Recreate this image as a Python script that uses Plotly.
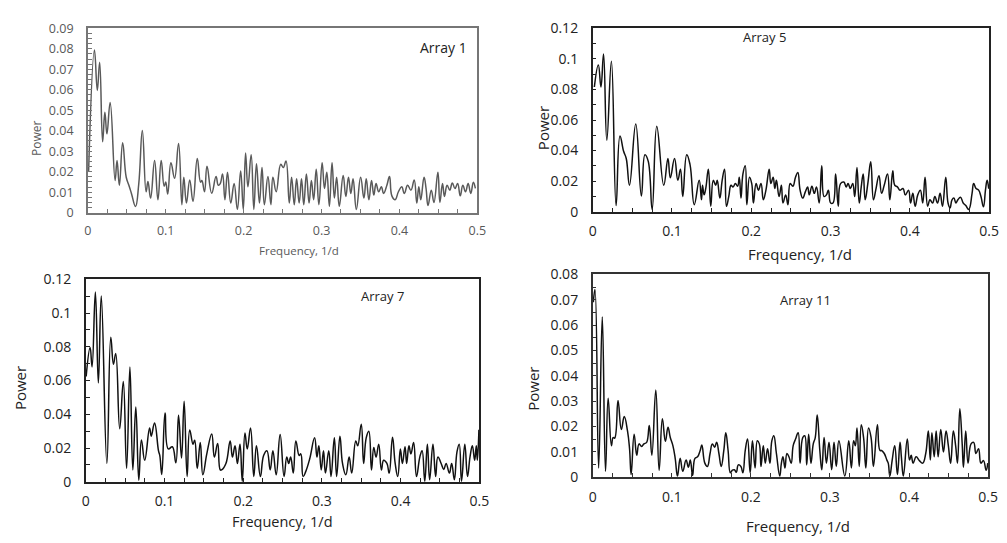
import plotly.graph_objects as go

W, H = 1007, 543

# ---------------- data ----------------
a1_freq = [0.001, 0.0085, 0.0122, 0.0152, 0.019, 0.0219, 0.0245, 0.0287, 0.035, 0.0375, 0.0405, 0.0447,
           0.0493, 0.0527, 0.056, 0.0612, 0.0654, 0.070, 0.0748, 0.0772, 0.0806, 0.0857, 0.090, 0.0942,
           0.098, 0.100, 0.1026, 0.1067, 0.1114, 0.1165, 0.1207, 0.1232, 0.1266, 0.1308, 0.135, 0.1405,
           0.1447, 0.1464, 0.1498, 0.153, 0.159, 0.1646, 0.1675, 0.170, 0.173, 0.176, 0.1793, 0.1835,
           0.1878, 0.192, 0.1962, 0.1996, 0.2025, 0.2055, 0.2097, 0.2131, 0.2165, 0.2203, 0.2236, 0.2266,
           0.2312, 0.235, 0.2376, 0.2418, 0.2477, 0.251, 0.2544, 0.2586, 0.2616, 0.265, 0.268, 0.2713,
           0.2743, 0.2772, 0.2806, 0.284, 0.287, 0.2899, 0.2932, 0.2966, 0.3008, 0.3038, 0.3068, 0.3101,
           0.3135, 0.3165, 0.3194, 0.3228, 0.3278, 0.3312, 0.3346, 0.3376, 0.3405, 0.3447, 0.3502, 0.3544,
           0.3574, 0.3608, 0.3642, 0.3671, 0.370, 0.3734, 0.3768, 0.3797, 0.3839, 0.3873, 0.3903, 0.3945,
           0.3987, 0.4029, 0.4063, 0.4105, 0.4148, 0.419, 0.4223, 0.4249, 0.4274, 0.4316, 0.4342, 0.4367,
           0.4409, 0.4443, 0.4494, 0.4519, 0.4553, 0.4578, 0.4612, 0.4646, 0.4679, 0.4713, 0.4747, 0.4781,
           0.4814, 0.4848, 0.4882, 0.4916, 0.4949, 0.4975]
a1_power = [0.02, 0.0794, 0.0597, 0.0734, 0.0346, 0.049, 0.0385, 0.0538, 0.0157, 0.0255, 0.0134, 0.0341,
            0.0173, 0.0134, 0.0094, 0.003, 0.0141, 0.0401, 0.0102, 0.0152, 0.0071, 0.0255, 0.0063, 0.0255,
            0.0129, 0.015, 0.0091, 0.0244, 0.0168, 0.0338, 0.0039, 0.0173, 0.0047, 0.016, 0.0055, 0.0264,
            0.0149, 0.0157, 0.0102, 0.0226, 0.0095, 0.0176, 0.0134, 0.0142, 0.0189, 0.0063, 0.0197, 0.0047,
            0.0142, 0.0016, 0.0204, 0.0016, 0.0291, 0.0126, 0.0283, 0.0016, 0.0239, 0.0047, 0.022, 0.0039,
            0.0176, 0.0039, 0.0173, 0.0102, 0.0236, 0.022, 0.0252, 0.0047, 0.0173, 0.0039, 0.0165, 0.0047,
            0.0165, 0.0039, 0.0189, 0.0047, 0.0157, 0.0063, 0.0212, 0.0039, 0.0244, 0.0118, 0.0197, 0.0031,
            0.0244, 0.0071, 0.0173, 0.0031, 0.0181, 0.0079, 0.0173, 0.0094, 0.0165, 0.0016, 0.0173, 0.0071,
            0.0165, 0.0063, 0.0157, 0.0086, 0.0142, 0.0102, 0.0126, 0.0094, 0.0134, 0.0176, 0.0082, 0.0063,
            0.0102, 0.0126, 0.0094, 0.0134, 0.011, 0.016, 0.0047, 0.0126, 0.0063, 0.0173, 0.0118, 0.0035,
            0.011, 0.005, 0.0197, 0.005, 0.0142, 0.0079, 0.0134, 0.011, 0.0145, 0.0118, 0.0142, 0.0082,
            0.0134, 0.0102, 0.0142, 0.0094, 0.0149, 0.0118]

a5_freq = [0.0021, 0.0071, 0.0104, 0.0137, 0.0178, 0.0236, 0.0295, 0.0344, 0.039, 0.0423, 0.0464, 0.0543,
           0.0614, 0.0659, 0.070, 0.075, 0.0808, 0.0896, 0.0949, 0.0979, 0.1032, 0.1074, 0.1107, 0.1136,
           0.1186, 0.1227, 0.1281, 0.1343, 0.1372, 0.1385, 0.1405, 0.1426, 0.1459, 0.1489, 0.1521, 0.1551,
           0.1571, 0.1604, 0.1633, 0.1663, 0.1687, 0.1716, 0.1745, 0.177, 0.180, 0.1828, 0.1849, 0.187,
           0.1895, 0.1924, 0.1944, 0.1978, 0.2006, 0.2027, 0.2061, 0.209, 0.2123, 0.2152, 0.2185, 0.2226,
           0.2247, 0.2276, 0.2297, 0.2317, 0.2351, 0.238, 0.240, 0.2434, 0.2463, 0.2491, 0.2525, 0.2558,
           0.2587, 0.2616, 0.2649, 0.2683, 0.2711, 0.2732, 0.2765, 0.2795, 0.2823, 0.2857, 0.2889, 0.2919,
           0.2948, 0.2973, 0.3001, 0.3031, 0.3064, 0.3097, 0.3126, 0.3168, 0.3197, 0.3221, 0.325, 0.328,
           0.3305, 0.3333, 0.3362, 0.3387, 0.3412, 0.3437, 0.347, 0.3507, 0.3541, 0.357, 0.3611, 0.3644,
           0.3677, 0.3719, 0.3748, 0.3785, 0.381, 0.3843, 0.3877, 0.3914, 0.3943, 0.3984, 0.4009, 0.4038,
           0.4067, 0.410, 0.4133, 0.4163, 0.4192, 0.4225, 0.4254, 0.4287, 0.4316, 0.4349, 0.4382, 0.4412,
           0.4453, 0.4482, 0.4507, 0.4532, 0.4556, 0.4581, 0.4606, 0.4639, 0.4673, 0.4706, 0.4743, 0.4785,
           0.4805, 0.4835, 0.4868, 0.4897, 0.4929, 0.4954, 0.4975, 0.4995]
a5_power = [0.0816, 0.096, 0.0816, 0.1032, 0.0468, 0.0985, 0.004, 0.0496, 0.0395, 0.0348, 0.0173, 0.0574,
            0.0103, 0.0373, 0.0331, 0.0015, 0.0559, 0.0173, 0.0348, 0.0222, 0.0348, 0.0205, 0.0278, 0.0099,
            0.0373, 0.031, 0.0046, 0.0205, 0.0078, 0.0173, 0.011, 0.0152, 0.0278, 0.0036, 0.0205, 0.0173,
            0.0205, 0.0089, 0.0205, 0.0278, 0.0036, 0.0099, 0.0173, 0.0162, 0.0184, 0.0167, 0.0226, 0.0089,
            0.0247, 0.030, 0.0046, 0.0226, 0.0184, 0.0057, 0.0184, 0.0141, 0.0184, 0.0078, 0.0141, 0.0278,
            0.0184, 0.0226, 0.0152, 0.0205, 0.0099, 0.0173, 0.0057, 0.011, 0.0046, 0.0184, 0.0167, 0.0226,
            0.0257, 0.0141, 0.0089, 0.0131, 0.0162, 0.011, 0.0167, 0.012, 0.0162, 0.0057, 0.030, 0.0099,
            0.011, 0.0141, 0.0057, 0.0057, 0.0247, 0.0036, 0.0184, 0.0194, 0.0162, 0.0184, 0.0152, 0.0184,
            0.0099, 0.0289, 0.0057, 0.0162, 0.0247, 0.0078, 0.0184, 0.0327, 0.0078, 0.0141, 0.0236, 0.012,
            0.0173, 0.0247, 0.0078, 0.0268, 0.0173, 0.0162, 0.0141, 0.0152, 0.011, 0.0141, 0.0057, 0.012,
            0.0036, 0.011, 0.0141, 0.0057, 0.0226, 0.0036, 0.0078, 0.0057, 0.0099, 0.0057, 0.012, 0.0036,
            0.0226, 0.0057, 0.0025, 0.0078, 0.0089, 0.0057, 0.0078, 0.0095, 0.0057, 0.004, 0.0015, 0.012,
            0.0184, 0.0152, 0.0141, 0.0099, 0.0032, 0.0141, 0.0205, 0.015]

a7_freq = [0.0004, 0.0054, 0.0079, 0.0121, 0.0159, 0.0196, 0.0267, 0.0317, 0.0351, 0.038, 0.043, 0.0476,
           0.0518, 0.056, 0.0597, 0.0635, 0.0673, 0.0706, 0.0748, 0.081, 0.0831, 0.0873, 0.0923, 0.094,
           0.0965, 0.1006, 0.1048, 0.1099, 0.1144, 0.1178, 0.1216, 0.1249, 0.1287, 0.132, 0.1362, 0.1383,
           0.1416, 0.1454, 0.1487, 0.1537, 0.160, 0.1633, 0.1675, 0.1708, 0.1725, 0.178, 0.1834, 0.1863,
           0.1896, 0.1926, 0.1959, 0.1988, 0.2022, 0.2051, 0.2093, 0.2134, 0.2168, 0.2218, 0.2259, 0.2301,
           0.2343, 0.2377, 0.2419, 0.2469, 0.2519, 0.2553, 0.2578, 0.2603, 0.2636, 0.2669, 0.2711, 0.2732,
           0.2761, 0.2794, 0.2845, 0.2907, 0.2937, 0.2961, 0.2991, 0.302, 0.3045, 0.3087, 0.3116, 0.3158,
           0.3187, 0.3229, 0.3262, 0.3304, 0.3346, 0.3379, 0.343, 0.3455, 0.350, 0.353, 0.3563, 0.3596,
           0.363, 0.3659, 0.3688, 0.3722, 0.3756, 0.3784, 0.3826, 0.3855, 0.3897, 0.3931, 0.3964, 0.3997,
           0.4023, 0.4056, 0.4077, 0.4106, 0.4131, 0.4165, 0.4202, 0.4244, 0.4273, 0.4307, 0.434, 0.4369,
           0.4411, 0.4445, 0.4474, 0.4515, 0.4549, 0.4578, 0.462, 0.4649, 0.4683, 0.4716, 0.4745, 0.4774,
           0.4816, 0.485, 0.4883, 0.4912, 0.4941, 0.4962, 0.4975, 0.4995]
a7_power = [0.0624, 0.0796, 0.0681, 0.1124, 0.0586, 0.1101, 0.0109, 0.0857, 0.0697, 0.0761, 0.0315, 0.0594,
            0.008, 0.0681, 0.0071, 0.0443, 0.001, 0.0248, 0.0128, 0.0319, 0.0271, 0.0349, 0.0185, 0.0156,
            0.0044, 0.0408, 0.0195, 0.0208, 0.0113, 0.0395, 0.0141, 0.0477, 0.0032, 0.0307, 0.0223, 0.0246,
            0.008, 0.0233, 0.0042, 0.0166, 0.0284, 0.0147, 0.0227, 0.0071, 0.0071, 0.0109, 0.0242, 0.0147,
            0.0214, 0.0109, 0.0223, 0.0004, 0.029, 0.0195, 0.0319, 0.0032, 0.0214, 0.0032, 0.0156, 0.0185,
            0.0071, 0.0185, 0.0042, 0.0281, 0.0032, 0.0147, 0.0109, 0.0147, 0.0052, 0.0242, 0.0156, 0.0166,
            0.0032, 0.0061, 0.0137, 0.0261, 0.0147, 0.0214, 0.0071, 0.0185, 0.0052, 0.0185, 0.0032, 0.0261,
            0.0032, 0.0271, 0.0109, 0.0042, 0.0147, 0.0052, 0.0242, 0.0214, 0.0342, 0.0109, 0.0261, 0.030,
            0.0071, 0.0204, 0.0147, 0.0223, 0.0071, 0.0128, 0.0109, 0.0052, 0.0265, 0.0109, 0.0032, 0.0195,
            0.0109, 0.0208, 0.0109, 0.0214, 0.0166, 0.0233, 0.0032, 0.0147, 0.0185, 0.0004, 0.0223, 0.0013,
            0.0223, 0.0032, 0.0147, 0.0109, 0.0074, 0.0109, 0.0052, 0.0109, 0.0013, 0.0176, 0.0223, 0.0004,
            0.0223, 0.0032, 0.0151, 0.0214, 0.0128, 0.0214, 0.0128, 0.0309]

a11_freq = [0.0008, 0.0029, 0.0075, 0.0121, 0.0162, 0.0195, 0.0237, 0.0258, 0.0278, 0.032, 0.0362, 0.0399,
            0.044, 0.0466, 0.0486, 0.0524, 0.0557, 0.0586, 0.0619, 0.0648, 0.0682, 0.0715, 0.0748, 0.0798,
            0.084, 0.0881, 0.0919, 0.0952, 0.0981, 0.1014, 0.1043, 0.1072, 0.1106, 0.1139, 0.1181, 0.121,
            0.1234, 0.1263, 0.1293, 0.1326, 0.1359, 0.138, 0.1418, 0.145, 0.1484, 0.1513, 0.1542, 0.1567,
            0.1596, 0.1625, 0.1658, 0.1683, 0.1712, 0.1741, 0.1766, 0.1791, 0.1816, 0.1841, 0.1874, 0.1899,
            0.1929, 0.1958, 0.1991, 0.202, 0.2053, 0.2082, 0.2107, 0.2128, 0.2157, 0.2182, 0.2211, 0.2241,
            0.2265, 0.229, 0.2323, 0.2365, 0.2386, 0.2406, 0.2431, 0.2456, 0.2481, 0.251, 0.2535, 0.2565,
            0.2598, 0.2622, 0.2656, 0.2681, 0.2706, 0.2731, 0.276, 0.2789, 0.2814, 0.2839, 0.2872, 0.2897,
            0.2926, 0.2955, 0.2988, 0.3022, 0.3051, 0.308, 0.3113, 0.3188, 0.3238, 0.3271, 0.330, 0.3321,
            0.3342, 0.337, 0.3396, 0.3425, 0.3454, 0.3488, 0.352, 0.355, 0.360, 0.3632, 0.3653, 0.3687,
            0.372, 0.3737, 0.3757, 0.3787, 0.3819, 0.3853, 0.3886, 0.3903, 0.3928, 0.3978, 0.4006, 0.4027,
            0.4052, 0.409, 0.4131, 0.4173, 0.4211, 0.4244, 0.4269, 0.4289, 0.4318, 0.4343, 0.4368, 0.4401,
            0.4435, 0.4468, 0.4497, 0.4526, 0.456, 0.4589, 0.4613, 0.4642, 0.4672, 0.4688, 0.4717, 0.4746,
            0.4784, 0.4817, 0.4846, 0.4879, 0.4909, 0.4941, 0.4975, 0.4995]
a11_power = [0.069, 0.074, 0.0036, 0.0632, 0.0023, 0.0311, 0.0124, 0.0156, 0.0154, 0.0302, 0.0188, 0.0239,
             0.0182, 0.0112, 0.001, 0.0169, 0.0086, 0.0131, 0.0121, 0.0131, 0.0137, 0.0204, 0.0086, 0.0344,
             0.0027, 0.023, 0.0141, 0.0197, 0.0156, 0.0124, 0.0074, 0.0004, 0.0074, 0.0023, 0.0067, 0.0039,
             0.0067, 0.0006, 0.0074, 0.008, 0.0105, 0.0127, 0.0055, 0.0042, 0.0093, 0.0131, 0.0118, 0.0137,
             0.0093, 0.0042, 0.0105, 0.0175, 0.0105, 0.0017, 0.0027, 0.0029, 0.0019, 0.0048, 0.0042, 0.0017,
             0.0105, 0.015, 0.0017, 0.0143, 0.0036, 0.0143, 0.0131, 0.0042, 0.0124, 0.0055, 0.0112, 0.0055,
             0.0143, 0.0163, 0.0093, 0.0004, 0.0055, 0.008, 0.0036, 0.0093, 0.008, 0.0055, 0.0124, 0.015,
             0.0175, 0.0055, 0.0156, 0.0163, 0.0048, 0.0169, 0.0055, 0.0131, 0.0156, 0.0245, 0.0105, 0.0029,
             0.0156, 0.0055, 0.0137, 0.0029, 0.0137, 0.0042, 0.0143, 0.0004, 0.0143, 0.0036, 0.0143, 0.0124,
             0.0194, 0.0042, 0.0207, 0.0156, 0.0036, 0.0194, 0.0156, 0.0042, 0.0207, 0.0105, 0.0105, 0.0093,
             0.0067, 0.0055, 0.0004, 0.0067, 0.0124, 0.001, 0.0137, 0.008, 0.0004, 0.015, 0.0067, 0.0086,
             0.0055, 0.008, 0.0065, 0.0055, 0.0093, 0.0182, 0.0067, 0.0175, 0.008, 0.0182, 0.008, 0.0188,
             0.0099, 0.0182, 0.0124, 0.0055, 0.0182, 0.0124, 0.0055, 0.027, 0.0131, 0.0039, 0.0182, 0.0055,
             0.0131, 0.0137, 0.0093, 0.0112, 0.0055, 0.0065, 0.0027, 0.0055]

panel_names = ["Array 1", "Array 5", "Array 7", "Array 11"]
x_title = "Frequency, 1/d"
y_title = "Power"

# ---------------- layout helpers ----------------
def px(x):
    return x / W

def py(y):
    return 1 - y / H

# pixel boxes of plot areas: (left, top, right, bottom)
boxes = [(85, 19, 480, 210), (597, 19, 999, 209), (83, 279, 482, 489), (597, 274, 998, 484)]
yranges = [0.09, 0.12, 0.12, 0.08]
ydticks = [0.01, 0.02, 0.02, 0.01]
yminor = [0.0025, 0.01, 0.01, 0.005]
line_colors = ["#595959", "#111111", "#111111", "#111111"]
axis_colors = ["#767676", "#222222", "#222222", "#333333"]
text_colors = ["#595959", "#222222", "#222222", "#222222"]
tick_sizes = [12.5, 14, 14, 14]

series = [(a1_freq, a1_power), (a5_freq, a5_power), (a7_freq, a7_power), (a11_freq, a11_power)]

fig = go.Figure()
layout = dict(
    width=W, height=H, margin=dict(l=0, r=0, t=0, b=0),
    paper_bgcolor="white", plot_bgcolor="white", showlegend=False,
    font=dict(family="Open Sans", size=13, color="#222222"),
)
annotations = []
for i, ((fx, fy), box) in enumerate(zip(series, boxes)):
    sfx = "" if i == 0 else str(i + 1)
    l, t, r, b = box
    fig.add_trace(go.Scatter(
        x=fx, y=fy, mode="lines", xaxis="x" + sfx, yaxis="y" + sfx, cliponaxis=True,
        line=dict(color=line_colors[i], width=1.5, shape="spline", smoothing=1.25),
        hoverinfo="skip",
    ))
    layout["xaxis" + sfx] = dict(
        domain=[px(l), px(r)], anchor="y" + sfx, range=[0, 0.5], dtick=0.1,
        showline=True, mirror=True, linecolor=axis_colors[i], linewidth=1.5,
        ticks="inside", ticklen=4, tickcolor=axis_colors[i], showgrid=False, zeroline=False,
        minor=dict(ticks="inside", dtick=0.025, ticklen=4, tickcolor=axis_colors[i], showgrid=False),
        tickfont=dict(size=tick_sizes[i], color=text_colors[i]), ticklabelstandoff=6,
    )
    layout["yaxis" + sfx] = dict(
        domain=[py(b), py(t)], anchor="x" + sfx, range=[0, yranges[i]], dtick=ydticks[i],
        showline=True, mirror=True, linecolor=axis_colors[i], linewidth=1.5,
        ticks="inside", ticklen=4, tickcolor=axis_colors[i], showgrid=False, zeroline=False,
        minor=dict(ticks="inside", dtick=yminor[i], ticklen=4, tickcolor=axis_colors[i], showgrid=False),
        tickfont=dict(size=tick_sizes[i], color=text_colors[i]), ticklabelstandoff=10,
    )

# axis titles and panel names (pixel positions)
xt_pos = [(299, 249, 11.5), (807, 253, 15), (282, 530, 14.5), (805, 535, 15)]
yt_pos = [(33, 133, 12), (546, 122, 15), (17, 392, 15), (537, 393, 15)]
nm_pos = [(446, 39, 14), (771, 28, 13), (384, 296, 13), (813, 301, 13)]
for i in range(4):
    x0, y0, s = xt_pos[i]
    annotations.append(dict(x=px(x0), y=py(y0), xref="paper", yref="paper", text=x_title, showarrow=False,
                            font=dict(size=s, color=text_colors[i]), xanchor="center", yanchor="middle"))
    x0, y0, s = yt_pos[i]
    annotations.append(dict(x=px(x0), y=py(y0), xref="paper", yref="paper", text=y_title, showarrow=False,
                            textangle=-90, font=dict(size=s, color=text_colors[i]), xanchor="center", yanchor="middle"))
    x0, y0, s = nm_pos[i]
    annotations.append(dict(x=px(x0), y=py(y0), xref="paper", yref="paper", text=panel_names[i], showarrow=False,
                            font=dict(size=s, color="#222222"), xanchor="center", yanchor="middle"))
layout["annotations"] = annotations
fig.update_layout(**layout)
fig.write_html("out.html")
